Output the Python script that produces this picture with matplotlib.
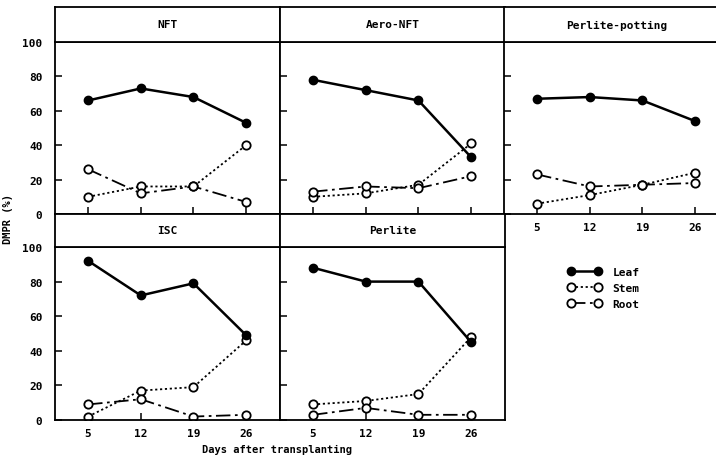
import matplotlib
matplotlib.use("Agg")
import matplotlib.pyplot as plt

plt.rcParams['font.family'] = ['DejaVu Sans Mono']
plt.rcParams['font.weight'] = 'bold'

# days after transplanting
days = [5, 12, 19, 26]
panels = ['NFT', 'Aero-NFT', 'Perlite-potting', 'ISC', 'Perlite']

# DMPR (%)
leaf_nft = [66, 73, 68, 53]
stem_nft = [10, 16, 16, 40]
root_nft = [26, 12, 16, 7]

leaf_aero = [78, 72, 66, 33]
stem_aero = [10, 12, 17, 41]
root_aero = [13, 16, 15, 22]

leaf_pot = [67, 68, 66, 54]
stem_pot = [6, 11, 17, 24]
root_pot = [23, 16, 17, 18]

leaf_isc = [92, 72, 79, 49]
stem_isc = [2, 17, 19, 46]
root_isc = [9, 12, 2, 3]

leaf_per = [88, 80, 80, 45]
stem_per = [9, 11, 15, 48]
root_per = [3, 7, 3, 3]

data = {
    'NFT': (leaf_nft, stem_nft, root_nft),
    'Aero-NFT': (leaf_aero, stem_aero, root_aero),
    'Perlite-potting': (leaf_pot, stem_pot, root_pot),
    'ISC': (leaf_isc, stem_isc, root_isc),
    'Perlite': (leaf_per, stem_per, root_per),
}

W, H = 716, 460
fig = plt.figure(figsize=(W / 100, H / 100), dpi=100)

col_left = [55, 280, 504]
col_w = 225
# (plot top, plot bottom, header top) in pixels
rows = [(43, 215, 8), (248, 421, 215)]
where = {'NFT': (0, 0), 'Aero-NFT': (0, 1), 'Perlite-potting': (0, 2),
         'ISC': (1, 0), 'Perlite': (1, 1)}

lw_frame = 1.3
for name in panels:
    r, c = where[name]
    ptop, pbot, htop = rows[r]
    x0 = col_left[c] / W
    w = col_w / W
    ax = fig.add_axes([x0, 1 - pbot / H, w, (pbot - ptop) / H])
    hx = fig.add_axes([x0, 1 - ptop / H, w, (ptop - htop) / H])
    hx.set_xticks([])
    hx.set_yticks([])
    for s in hx.spines.values():
        s.set_linewidth(lw_frame)
    hx.text(0.5, 0.5, name, ha='center', va='center', fontsize=8,
            fontweight='bold', transform=hx.transAxes)

    leaf, stem, root = data[name]
    ax.plot(days, leaf, '-', color='black', lw=1.8, marker='o', ms=6,
            mfc='black', mec='black', label='Leaf', zorder=3)
    ax.plot(days, stem, color='black', lw=1.3, ls=(0, (1.2, 1.5)), marker='o',
            ms=6, mfc='white', mec='black', mew=1.3, label='Stem', zorder=2)
    ax.plot(days, root, color='black', lw=1.3, ls=(0, (8, 2.5, 1.5, 2.5)),
            marker='o', ms=6, mfc='white', mec='black', mew=1.3,
            label='Root', zorder=2)

    ax.set_xlim(0.6, 30.5)
    ax.set_ylim(0, 100)
    ax.set_xticks(days)
    ax.set_yticks([0, 20, 40, 60, 80, 100])
    for s in ax.spines.values():
        s.set_linewidth(lw_frame)
    ax.tick_params(direction='in', length=5, width=1.1, labelsize=8,
                   right=False, top=False)
    ax.tick_params(axis='y', pad=9)
    ax.tick_params(axis='x', pad=6)
    if c != 0:
        ax.set_yticklabels([])
    if r == 0 and c != 2:
        ax.set_xticklabels([])
    if name == 'NFT':
        handles, labels = ax.get_legend_handles_labels()

fig.text(8 / W, 1 - 219 / H, 'DMPR (%)', rotation=90, ha='center',
         va='center', fontsize=7.5, fontweight='bold')
fig.text(277 / W, 1 - 450 / H, 'Days after transplanting', ha='center',
         va='center', fontsize=7.5, fontweight='bold')

fig.legend(handles, labels, loc='upper left',
           bbox_to_anchor=(558 / W, 1 - 258 / H), frameon=False, numpoints=2,
           fontsize=8, handlelength=3.0, handletextpad=1.0, labelspacing=0.55)

fig.savefig('out.png', dpi=100)
